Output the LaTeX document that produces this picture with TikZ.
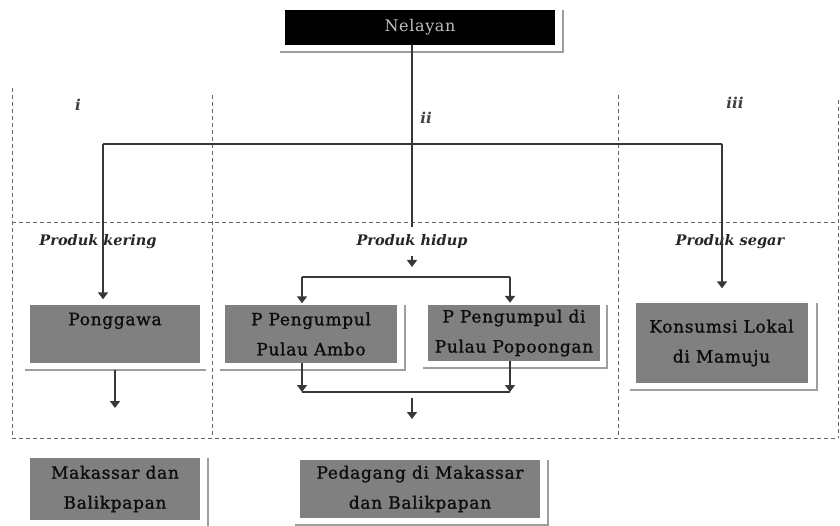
\documentclass[tikz,border=0pt]{standalone}
\usepackage{fontspec}
\setmainfont{DejaVu Serif}
\newfontfamily\boxfam[LetterSpace=4,FakeBold=1.2]{DejaVu Serif}
\newfontfamily\nelfam[LetterSpace=4]{DejaVu Serif}
\usetikzlibrary{arrows.meta}
\begin{document}
\begin{tikzpicture}[x=1pt,y=-1pt,
  gbox/.style={fill=black!50, text=black!95, inner sep=0pt, align=center,
    font=\boxfam\fontsize{17}{30}\selectfont},
  nbox/.style={fill=black, text=black!25, inner sep=0pt,
    font=\nelfam\fontsize{16}{18}\selectfont},
  conn/.style={draw=black!78, line width=1.7pt},
  arr/.style={conn, -{Triangle[width=10pt,length=7pt]}},
  sepline/.style={draw=black!60, line width=1pt, dash pattern=on 4pt off 3pt},
  shd/.style={draw=black!38, line width=1.6pt},
  lab/.style={font=\fontsize{14.5}{17}\selectfont\bfseries\itshape, text=black!85},
  rom/.style={font=\fontsize{15}{17}\selectfont\bfseries\itshape, text=black!75}
]
\useasboundingbox (0,0) rectangle (840,526);

% section separators
\draw[sepline] (12,88) -- (12,438);
\draw[sepline] (212,95) -- (212,438);
\draw[sepline] (618,95) -- (618,438);
\draw[sepline] (838,100) -- (838,438);
\draw[sepline] (12,223) -- (838,223);
\draw[sepline] (12,438) -- (838,438);

% roman labels
\node[rom] (ri) at (78,105) {i};
\node[rom] (rii) at (426,118) {ii};
\node[rom] (riii) at (735,103) {iii};

% category labels
\node[lab] (pk) at (98,242) {Produk kering};
\node[lab] (ph) at (412,242) {Produk hidup};
\node[lab] (ps) at (730,242) {Produk segar};

% boxes
\node[nbox, minimum width=270pt, minimum height=35pt] (nel) at (420,27.5) {Nelayan};
\node[gbox, minimum width=170pt, minimum height=57pt] (pong) at (115,334) {Ponggawa\\\phantom{X}};
\node[gbox, minimum width=172pt, minimum height=57pt] (ambo) at (311,334) {P Pengumpul\\Pulau Ambo};
\node[gbox, minimum width=172pt, minimum height=56pt] (popo) at (514,333) {P Pengumpul di\\Pulau Popoongan};
\node[gbox, minimum width=172pt, minimum height=79pt] (kons) at (721.5,343) {Konsumsi Lokal\\di Mamuju};
\node[gbox, minimum width=170pt, minimum height=62pt] (mak) at (115,489) {Makassar dan\\Balikpapan};
\node[gbox, minimum width=240pt, minimum height=58pt] (ped) at (420,489) {Pedagang di Makassar\\dan Balikpapan};

% shadows
\draw[shd] ([xshift=-5pt]nel.south west) ++(0,7) -| ([xshift=8pt]nel.north east);
\draw[shd] ([xshift=-5pt,yshift=-7pt]pong.south west) -- ([xshift=6pt,yshift=-7pt]pong.south east);
\draw[shd] ([xshift=-5pt]ambo.south west) ++(0,7) -| ([xshift=8pt]ambo.north east);
\draw[shd] ([xshift=-5pt]popo.south west) ++(0,7) -| ([xshift=7pt]popo.north east);
\draw[shd] ([xshift=-5pt]kons.south west) ++(0,7) -| ([xshift=9pt]kons.north east);
\draw[shd] ([xshift=-5pt]mak.south west) ++(0,7) -| ([xshift=8pt]mak.north east);
\draw[shd] ([xshift=-5pt]ped.south west) ++(0,7) -| ([xshift=8pt]ped.north east);

% junction coordinates
\coordinate (jt) at (412,144);
\coordinate (jl) at (103,144);
\coordinate (jr) at (722,144);
\coordinate (hv) at (412,227);
\coordinate (ph1) at (412,256);
\coordinate (ph2) at (412,267);
\coordinate (sl) at (302,277);
\coordinate (sr) at (510,277);
\coordinate (ml) at (302,392);
\coordinate (mr) at (510,392);
\coordinate (md1) at (412,398);
\coordinate (md2) at (412,419);
\coordinate (pg) at (115,408);

% connectors
\draw[conn] (nel.south -| jt) -- (hv);
\draw[conn] (jl) -- (jr);
\draw[arr, shorten >=6pt] (jl) -- (pong.north -| jl);
\draw[arr, shorten >=15pt] (jr) -- (kons.north -| jr);
\draw[arr] (ph1) -- (ph2);
\draw[conn] (sl) -- (sr);
\draw[arr, shorten >=2pt] (sl) -- (ambo.north -| sl);
\draw[arr, shorten >=2pt] (sr) -- (popo.north -| sr);
\draw[arr] (ambo.south -| ml) -- (ml);
\draw[arr] (popo.south -| mr) -- (mr);
\draw[conn] (ml) -- (mr);
\draw[arr] (md1) -- (md2);
\draw[arr] ([yshift=-7pt]pong.south -| pg) -- (pg);
\end{tikzpicture}
\end{document}
